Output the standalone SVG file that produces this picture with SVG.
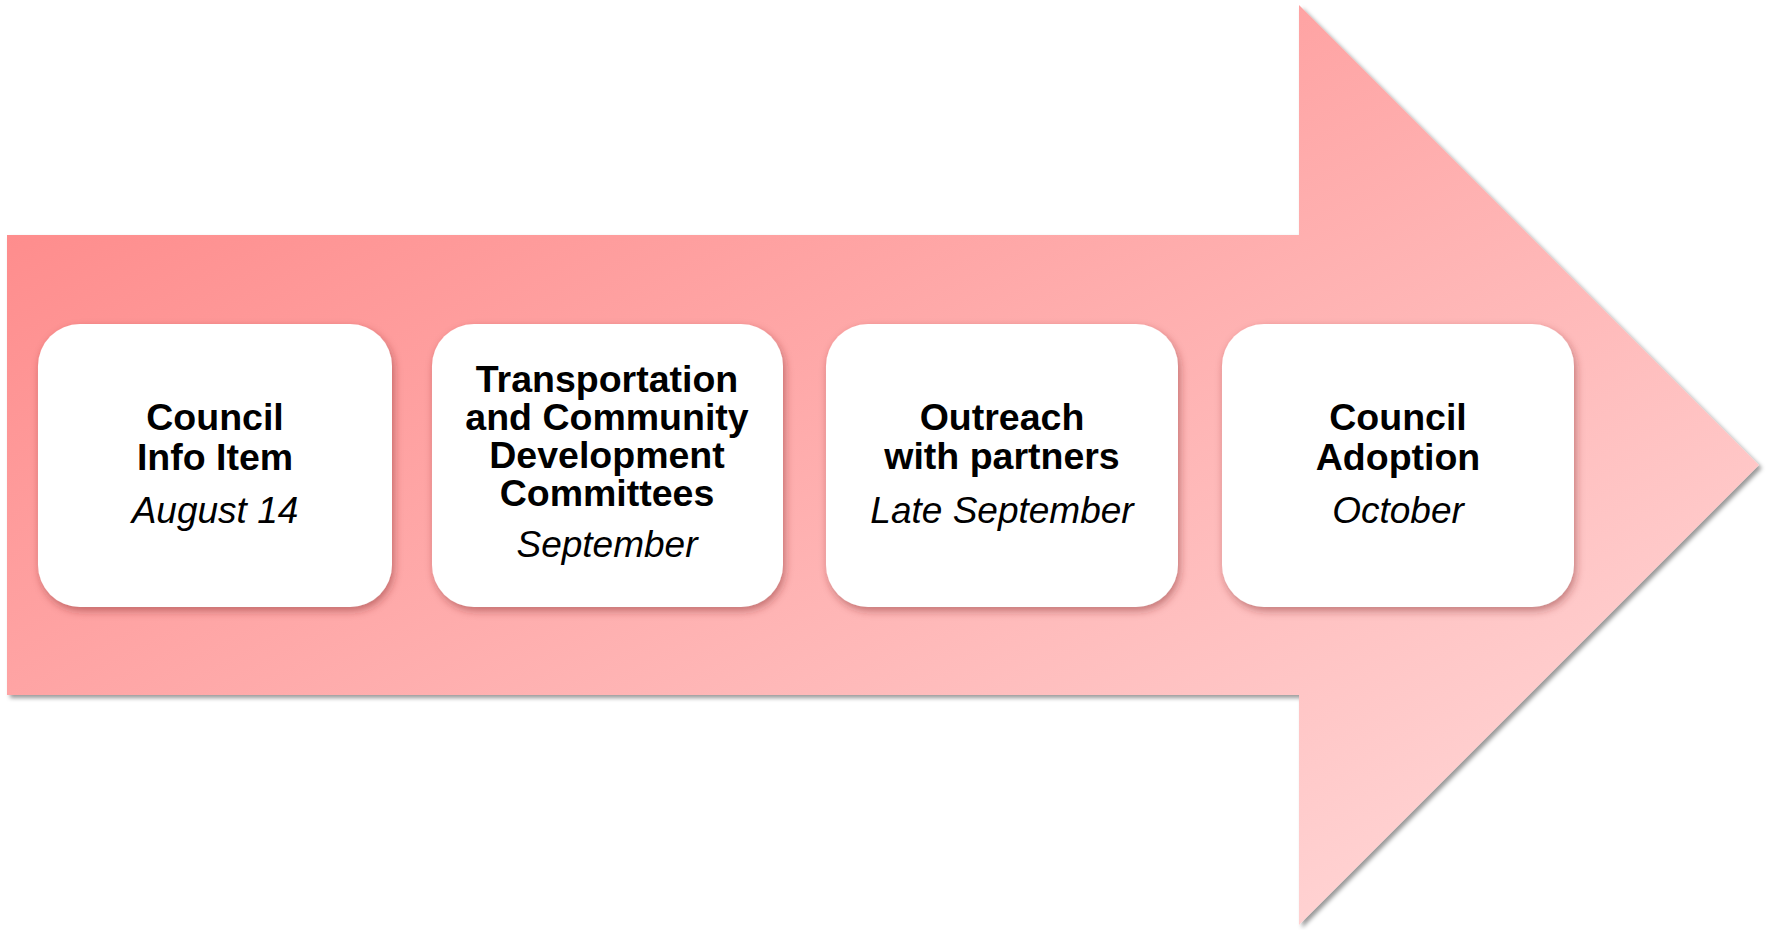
<svg xmlns="http://www.w3.org/2000/svg" width="1772" height="930" viewBox="0 0 1772 930">
  <defs>
    <linearGradient id="arrowGrad" gradientUnits="userSpaceOnUse" x1="97" y1="189" x2="654" y2="1265">
      <stop offset="0" stop-color="#FE8D8D"/>
      <stop offset="1" stop-color="#FFD2D2"/>
    </linearGradient>
    <filter id="arrowShadow" x="-5%" y="-5%" width="110%" height="110%">
      <feDropShadow dx="3" dy="3" stdDeviation="2" flood-color="#000" flood-opacity="0.4"/>
    </filter>
    <filter id="boxShadow" x="-10%" y="-10%" width="120%" height="125%">
      <feDropShadow dx="2" dy="4" stdDeviation="4" flood-color="#7a2020" flood-opacity="0.45"/>
    </filter>
  </defs>
  <style>
    .box { fill: #ffffff; filter: url(#boxShadow); }
    .title { font-family: "Liberation Sans", Arial, sans-serif; font-weight: bold; font-size: 37.5px; fill: #000; text-anchor: middle; }
    .date { font-family: "Liberation Sans", Arial, sans-serif; font-style: italic; font-size: 37px; fill: #000; text-anchor: middle; }
  </style>
  <rect width="1772" height="930" fill="#ffffff"/>
  <g id="arrow">
    <path d="M7,235 L1299,235 L1299,5 L1759,465 L1299,925 L1299,695 L7,695 Z" fill="url(#arrowGrad)" filter="url(#arrowShadow)"/>
  </g>
  <g id="connectors"></g>
  <g id="node1">
    <rect class="box" x="38" y="324" width="354" height="283" rx="42" ry="42"/>
    <text class="title" x="215" y="430">Council</text>
    <text class="title" x="215" y="470">Info Item</text>
    <text class="date" x="215" y="523">August 14</text>
  </g>
  <g id="node2">
    <rect class="box" x="432" y="324" width="351" height="283" rx="42" ry="42"/>
    <text class="title" x="607" y="392">Transportation</text>
    <text class="title" x="607" y="430">and Community</text>
    <text class="title" x="607" y="468">Development</text>
    <text class="title" x="607" y="506">Committees</text>
    <text class="date" x="607" y="557">September</text>
  </g>
  <g id="node3">
    <rect class="box" x="826" y="324" width="352" height="283" rx="42" ry="42"/>
    <text class="title" x="1002" y="430">Outreach</text>
    <text class="title" x="1002" y="469">with partners</text>
    <text class="date" x="1002" y="523">Late September</text>
  </g>
  <g id="node4">
    <rect class="box" x="1222" y="324" width="352" height="283" rx="42" ry="42"/>
    <text class="title" x="1398" y="430">Council</text>
    <text class="title" x="1398" y="470">Adoption</text>
    <text class="date" x="1398" y="523">October</text>
  </g>
</svg>
